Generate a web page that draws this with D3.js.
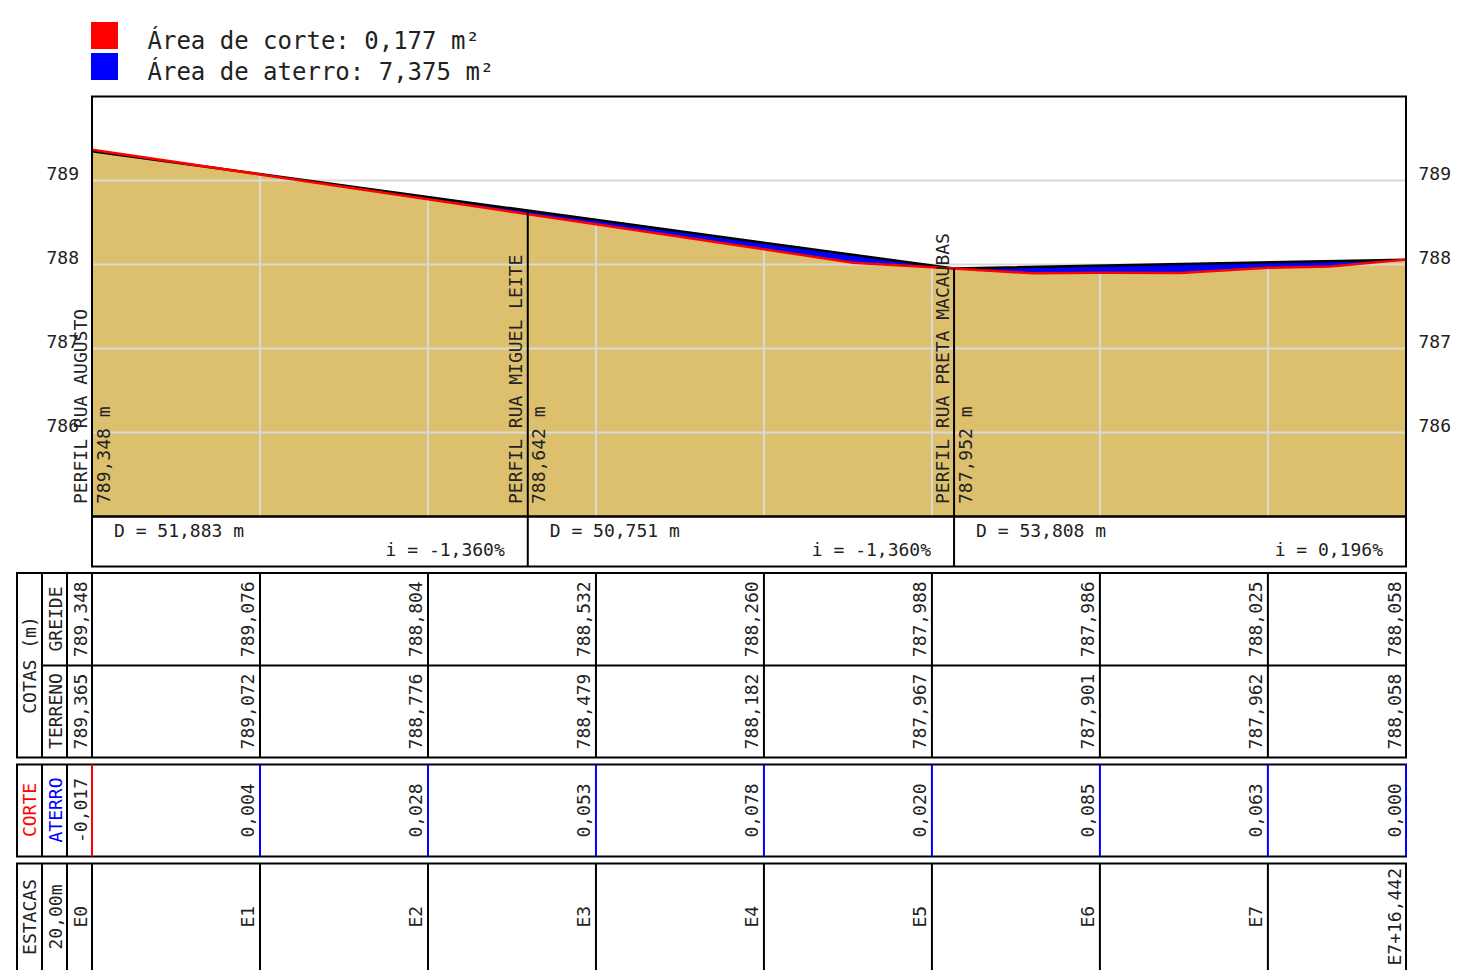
<!DOCTYPE html>
<html>
<head>
<meta charset="utf-8">
<script src="https://cdn.jsdelivr.net/npm/d3@7"></script>
<style>
  html, body { margin: 0; padding: 0; background: #fff; overflow: hidden; }
  svg { display: block; }
  text { font-family: "DejaVu Sans Mono", monospace; fill: #222; }
</style>
</head>
<body>
<svg id="chart"></svg>
<script>
// stations
const stationChain = [0, 20, 40, 60, 80, 100, 120, 140, 156.442]
const stationLabels = ["E0", "E1", "E2", "E3", "E4", "E5", "E6", "E7", "E7+16,442"]
const greideLabels = ["789,348", "789,076", "788,804", "788,532", "788,260", "787,988", "787,986", "788,025", "788,058"]
const terrenoLabels = ["789,365", "789,072", "788,776", "788,479", "788,182", "787,967", "787,901", "787,962", "788,058"]
const difLabels = ["-0,017", "0,004", "0,028", "0,053", "0,078", "0,020", "0,085", "0,063", "0,000"]
const terrenoAtStation = [789.365, 789.072, 788.776, 788.479, 788.182, 787.967, 787.901, 787.962, 788.058]

// ground profile
const terrainChain = [0, 20, 40, 60, 80, 90.6, 100, 112, 120, 129.6, 140, 147.4, 156.442]
const terrainElev = [789.365, 789.072, 788.776, 788.479, 788.182, 788.02, 787.967, 787.895, 787.901, 787.90, 787.962, 787.975, 788.058]

// grade line
const greideChain = [0, 51.883, 102.634, 156.442]
const greideElev = [789.348, 788.642, 787.952, 788.058]

// PVI labels
const pviNames = ["PERFIL RUA AUGUSTO", "PERFIL RUA MIGUEL LEITE", "PERFIL RUA PRETA MACAUBAS"]
const pviElevLabels = ["789,348 m", "788,642 m", "787,952 m"]
const segDist = ["D = 51,883 m", "D = 50,751 m", "D = 53,808 m"]
const segSlope = ["i = -1,360%", "i = -1,360%", "i = 0,196%"]

const elevTicks = [789, 788, 787, 786]
const legendLabels = ["Área de corte: 0,177 m²", "Área de aterro: 7,375 m²"]
const legendColors = ["#ff0000", "#0000ff"]

const W = 1464, H = 970
const plotLeft = 92, plotRight = 1406, plotTop = 96.5, plotBottom = 516.5

const svg = d3.select("#chart").attr("width", W).attr("height", H)

const x = d3.scaleLinear().domain([0, 156.442]).range([plotLeft, plotRight])
const y = d3.scaleLinear().domain([789, 786]).range([180.5, 432.5])

const terrain = terrainChain.map((c, i) => [c, terrainElev[i]])
const greide = greideChain.map((c, i) => [c, greideElev[i]])

const lineGen = d3.line().x(d => x(d[0])).y(d => y(d[1]))
const underArea = d3.area().x(d => x(d[0])).y0(plotBottom).y1(d => y(d[1]))
const aboveArea = d3.area().x(d => x(d[0])).y0(plotTop).y1(d => y(d[1]))

const defs = svg.append("defs")

// legend
legendLabels.forEach((t, i) => {
    svg.append("rect")
        .attr("x", 91).attr("y", 22 + i * 31)
        .attr("width", 27).attr("height", 27)
        .attr("fill", legendColors[i])
    svg.append("text")
        .attr("x", 147.5).attr("y", 49 + i * 31)
        .attr("font-size", 24)
        .text(t)
})

// fills
const plot = svg.append("g")
plot.append("path").attr("d", underArea(terrain)).attr("fill", "#ddc06e")

// grid
plot.selectAll(".hgrid").data(elevTicks).join("line")
    .attr("class", "hgrid")
    .attr("x1", plotLeft).attr("x2", plotRight)
    .attr("y1", d => y(d)).attr("y2", d => y(d))
    .attr("stroke", "#d9d9d9").attr("stroke-width", 2)
plot.selectAll(".vgrid").data(stationChain.slice(1, -1)).join("line")
    .attr("class", "vgrid")
    .attr("x1", d => x(d)).attr("x2", d => x(d))
    .attr("y1", (d, i) => y(terrenoAtStation[i + 1])).attr("y2", plotBottom)
    .attr("stroke", "#d9d9d9").attr("stroke-width", 2)

// aterro = under the grade, over the ground; corte = under the ground, over the grade
defs.append("clipPath").attr("id", "overTerrain").append("path").attr("d", aboveArea(terrain))
defs.append("clipPath").attr("id", "overGreide").append("path").attr("d", aboveArea(greide))
plot.append("path").attr("d", underArea(greide))
    .attr("fill", "#0000ff").attr("clip-path", "url(#overTerrain)")
plot.append("path").attr("d", underArea(terrain))
    .attr("fill", "#ff0000").attr("clip-path", "url(#overGreide)")

plot.append("path").attr("d", lineGen(greide))
    .attr("fill", "none").attr("stroke", "#000").attr("stroke-width", 2.5)
plot.append("path").attr("d", lineGen(terrain))
    .attr("fill", "none").attr("stroke", "#ff0000").attr("stroke-width", 2.5)

// frame
svg.append("rect")
    .attr("x", plotLeft).attr("y", plotTop)
    .attr("width", plotRight - plotLeft).attr("height", plotBottom - plotTop)
    .attr("fill", "none").attr("stroke", "#000").attr("stroke-width", 2)

// elevation axes
svg.append("g").attr("transform", `translate(${plotLeft},0)`)
    .call(d3.axisLeft(y).tickValues(elevTicks).tickSize(0).tickPadding(13).tickFormat(d3.format("d")))
svg.append("g").attr("transform", `translate(${plotRight},0)`)
    .call(d3.axisRight(y).tickValues(elevTicks).tickSize(0).tickPadding(12.5).tickFormat(d3.format("d")))
svg.selectAll(".domain").remove()
svg.selectAll(".tick text")
    .attr("font-size", 18).attr("dy", -0.8)
    .style("font-family", '"DejaVu Sans Mono", monospace').style("fill", "#222")

// distance / slope box
const boxTop = plotBottom, boxBottom = 566.5
svg.append("rect")
    .attr("x", plotLeft).attr("y", boxTop)
    .attr("width", plotRight - plotLeft).attr("height", boxBottom - boxTop)
    .attr("fill", "none").attr("stroke", "#000").attr("stroke-width", 2)

const segEnds = greideChain.slice(1)
segDist.forEach((t, i) => {
    const x0 = x(greideChain[i])
    svg.append("text").attr("x", x0 + 22).attr("y", 537).attr("font-size", 18).text(t)
    svg.append("text").attr("x", x(segEnds[i]) - 23).attr("y", 556)
        .attr("font-size", 18).attr("text-anchor", "end").text(segSlope[i])
})

// PVI lines and labels
greideChain.slice(1, 3).forEach((c, i) => {
    svg.append("line")
        .attr("x1", x(c)).attr("x2", x(c))
        .attr("y1", y(greideElev[i + 1])).attr("y2", boxBottom)
        .attr("stroke", "#000").attr("stroke-width", 2)
})
pviNames.forEach((t, i) => {
    const px = x(greideChain[i])
    svg.append("text")
        .attr("transform", `translate(${px - 5.5},504) rotate(-90)`)
        .attr("font-size", 18).text(t)
    svg.append("text")
        .attr("transform", `translate(${px + 17.5},504) rotate(-90)`)
        .attr("font-size", 18).text(pviElevLabels[i])
})

// tables
const tableCols = [17, 42, 67, 92]

function drawTable(y0, y1, rows, lineColor) {
    svg.append("rect")
        .attr("x", tableCols[0]).attr("y", y0)
        .attr("width", plotRight - tableCols[0]).attr("height", y1 - y0)
        .attr("fill", "none").attr("stroke", "#000").attr("stroke-width", 2)
    tableCols.slice(1).forEach(cx => {
        svg.append("line")
            .attr("x1", cx).attr("x2", cx).attr("y1", y0).attr("y2", y1)
            .attr("stroke", "#000").attr("stroke-width", 2)
    })
    stationChain.forEach((c, i) => {
        if (c === 0 && !lineColor) return
        svg.append("line")
            .attr("x1", x(c)).attr("x2", x(c)).attr("y1", y0).attr("y2", y1)
            .attr("stroke", lineColor ? lineColor(i) : "#000").attr("stroke-width", 2)
    })
    rows.forEach(r => {
        r.labels.forEach((t, i) => {
            svg.append("text")
                .attr("transform", `translate(${x(stationChain[i]) - 5.5},${(r.y0 + r.y1) / 2}) rotate(-90)`)
                .attr("font-size", 18).attr("text-anchor", "middle").text(t)
        })
    })
}

function headerText(t, hx, hy, color) {
    svg.append("text")
        .attr("transform", `translate(${hx},${hy}) rotate(-90)`)
        .attr("font-size", 18).attr("text-anchor", "middle")
        .style("fill", color || "#222").text(t)
}

drawTable(573, 757.5, [
    { labels: greideLabels, y0: 573, y1: 665.5 },
    { labels: terrenoLabels, y0: 665.5, y1: 757.5 }
])
svg.append("line").attr("x1", 42).attr("x2", plotRight).attr("y1", 665.5).attr("y2", 665.5)
    .attr("stroke", "#000").attr("stroke-width", 2)
headerText("COTAS (m)", 36, 665)
headerText("GREIDE", 61.5, 619)
headerText("TERRENO", 61.5, 711)

drawTable(764.5, 856.5, [{ labels: difLabels, y0: 764.5, y1: 856.5 }],
    i => i === 0 ? "#ff0000" : "#0000ff")
headerText("CORTE", 36, 810, "#ff0000")
headerText("ATERRO", 61.5, 810, "#0000ff")

drawTable(863.5, 975, [{ labels: stationLabels, y0: 863.5, y1: 970 }])
headerText("ESTACAS", 36, 917)
headerText("20,00m", 61.5, 917)
</script>
</body>
</html>
